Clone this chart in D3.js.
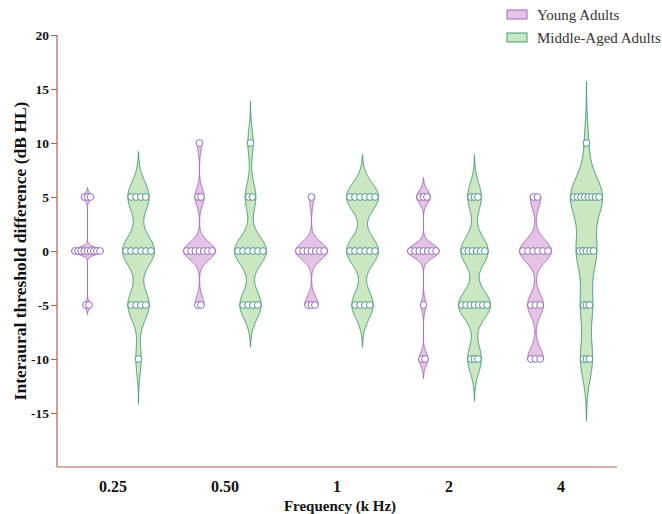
<!DOCTYPE html>
<html>
<head>
<meta charset="utf-8">
<script src="https://cdn.jsdelivr.net/npm/d3@7"></script>
<style>
  html, body { margin: 0; padding: 0; background: #ffffff; }
  svg { display: block; }
</style>
</head>
<body>
<svg id="chart" width="662" height="514"></svg>
<script>
// ---------------- data ----------------
const frequencies = ["0.25", "0.50", "1", "2", "4"];
const levels = [10, 5, 0, -5, -10];               // dB HL values that occur
// number of listeners at each level, per frequency
const youngCounts = [
  [0, 3, 9, 2, 0],
  [1, 2, 7, 2, 0],
  [0, 1, 7, 3, 0],
  [0, 3, 7, 1, 2],
  [0, 2, 6, 3, 3]
];
const middleCounts = [
  [0, 4, 6, 4, 1],
  [1, 2, 6, 4, 0],
  [0, 6, 6, 4, 0],
  [0, 3, 6, 7, 3],
  [1, 8, 5, 3, 3]
];
// kernel bandwidths (dB) of the density estimate, read from the shapes
const youngBandwidth = [0.3, 0.8, 0.8, 0.6, 1.0];
const middleBandwidth = [1.4, 1.3, 1.3, 1.3, 1.9];
const youngTrimmed = [false, true, true, false, true];
const middleTrimmed = [false, false, false, false, false];
const yTicks = [20, 15, 10, 5, 0, -5, -10, -15];
const seriesNames = ["Young Adults", "Middle-Aged Adults"];

// ---------------- styles ----------------
const series = [
  { key: "young", name: seriesNames[0], counts: youngCounts, bw: youngBandwidth, trim: youngTrimmed,
    fill: "#e4c4e4", stroke: "#b05fbe", dot: "#8a5db8" },
  { key: "middle", name: seriesNames[1], counts: middleCounts, bw: middleBandwidth, trim: middleTrimmed,
    fill: "#cbe7c2", stroke: "#3f9a72", dot: "#3a8c80" }
];
const axisColor = "#b0604a";
const serif = "'Liberation Serif','Times New Roman',Times,serif";
const ink = "#111111";

const svg = d3.select("#chart");

const y = d3.scaleLinear().domain([-20, 20]).range([467, 35]);
const xGroup = d3.scaleBand().domain(frequencies).range([57, 617]);
const xSeries = d3.scalePoint().domain(series.map(s => s.key)).range([-25.5, 25.5]);
const maxHalf = 16;
const r = 3.4;

// ---------------- axes ----------------
const yAxis = d3.axisLeft(y).tickValues(yTicks).tickSize(6).tickPadding(2).tickFormat(d => String(d));
const gy = svg.append("g").attr("transform", "translate(57,0)").call(yAxis);
gy.select(".domain").remove();
gy.selectAll(".tick line").attr("stroke", axisColor).attr("stroke-width", 1);
gy.selectAll(".tick text")
  .attr("fill", ink).attr("font-family", serif).attr("font-weight", "bold").attr("font-size", 13.5);

svg.append("line").attr("x1", 57).attr("x2", 57).attr("y1", y(20)).attr("y2", y(-20))
  .attr("stroke", axisColor).attr("stroke-width", 1.2);
svg.append("line").attr("x1", 57).attr("x2", 617).attr("y1", y(-20)).attr("y2", y(-20))
  .attr("stroke", axisColor).attr("stroke-width", 1.2);

const xAxis = d3.axisBottom(xGroup).tickSize(0).tickPadding(0);
const gx = svg.append("g").attr("transform", `translate(0,${y(-20)})`).call(xAxis);
gx.select(".domain").remove();
gx.selectAll(".tick text")
  .attr("dy", null).attr("y", 25)
  .attr("fill", ink).attr("font-family", serif).attr("font-weight", "bold").attr("font-size", 16);

svg.append("text").attr("x", 340).attr("y", 511).attr("text-anchor", "middle")
  .attr("font-family", serif).attr("font-weight", "bold").attr("font-size", 15).attr("fill", ink)
  .text("Frequency (k Hz)");
svg.append("text").attr("transform", `translate(26,${(y(20) + y(-20)) / 2}) rotate(-90)`)
  .attr("text-anchor", "middle")
  .attr("font-family", serif).attr("font-weight", "bold").attr("font-size", 17.5).attr("fill", ink)
  .text("Interaural threshold difference (dB HL)");

// ---------------- violins ----------------
function expand(counts) {
  const vals = [];
  counts.forEach((c, i) => { for (let k = 0; k < c; k++) vals.push(levels[i]); });
  return vals;
}
function kde(vals, h) {
  return t => d3.sum(vals, v => Math.exp(-((t - v) * (t - v)) / (2 * h * h)));
}

const plot = svg.append("g");
frequencies.forEach((f, gi) => {
  series.forEach(s => {
    const counts = s.counts[gi];
    const vals = expand(counts);
    const h = s.bw[gi];
    const dens = kde(vals, h);
    const lo = s.trim[gi] ? d3.min(vals) : d3.min(vals) - 3 * h;
    const hi = s.trim[gi] ? d3.max(vals) : d3.max(vals) + 3 * h;
    const grid = d3.range(0, 401).map(i => lo + (hi - lo) * i / 400);
    const pts = grid.map(t => ({ t, d: dens(t) }));
    const w = d3.scaleLinear().domain([0, d3.max(pts, p => p.d)]).range([0, maxHalf]);
    const cx = xGroup(f) + xGroup.bandwidth() / 2 + xSeries(s.key);

    const area = d3.area()
      .y(p => y(p.t))
      .x0(p => cx - w(p.d))
      .x1(p => cx + w(p.d))
      .curve(d3.curveLinear);
    plot.append("path").datum(pts).attr("d", area)
      .attr("fill", s.fill).attr("stroke", s.stroke).attr("stroke-width", 1);

    // rows of points
    counts.forEach((n, li) => {
      if (!n) return;
      const v = levels[li];
      const hw = w(dens(v));
      plot.append("line").attr("x1", cx - hw).attr("x2", cx + hw)
        .attr("y1", y(v)).attr("y2", y(v)).attr("stroke", s.stroke).attr("stroke-width", 1);
      const half = n > 1 ? Math.min((n - 1) * 2.5, Math.max(hw - r, (n - 1) * 1.5)) : 0;
      d3.range(n).forEach(k => {
        const px = n > 1 ? cx - half + k * (2 * half) / (n - 1) : cx;
        plot.append("circle").attr("cx", px).attr("cy", y(v)).attr("r", r)
          .attr("fill", "#ffffff").attr("stroke", s.dot).attr("stroke-width", 0.9);
      });
    });
  });
});

// ---------------- legend ----------------
const legend = svg.append("g");
series.forEach((s, i) => {
  const ly = 10 + i * 23;
  legend.append("rect").attr("x", 507).attr("y", ly).attr("width", 20).attr("height", 9)
    .attr("fill", s.fill).attr("stroke", s.stroke).attr("stroke-width", 1);
  legend.append("text").attr("x", 537).attr("y", ly + 9.5)
    .attr("font-family", serif).attr("font-size", 15).attr("fill", "#333").text(s.name);
});
</script>
</body>
</html>
